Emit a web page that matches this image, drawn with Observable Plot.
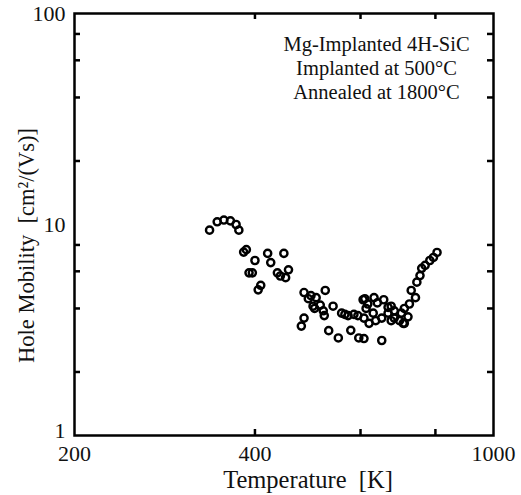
<!DOCTYPE html>
<html>
<head>
<meta charset="utf-8">
<script src="https://cdn.jsdelivr.net/npm/d3@7"></script>
<script src="https://cdn.jsdelivr.net/npm/@observablehq/plot@0.6"></script>
<style>
  html, body { margin: 0; padding: 0; background: #fff; }
  #chart svg { display: block; }
</style>
</head>
<body>
<div id="chart"></div>
<script>
// Temperature [K]
const temperature = [
  336, 346, 355, 364, 372, 376,
  383, 387, 391, 396, 400, 405, 409, 420, 425, 436, 441, 447, 450, 455,
  478, 483, 483, 491, 496, 500, 503, 506, 514, 520, 522, 524, 531, 540, 551,
  558, 565, 572, 578, 585, 594, 596, 606, 608, 610, 613, 617, 620, 630, 632, 636, 640,
  608, 651, 651, 656, 667, 667, 675, 675, 683, 683, 697, 702, 707, 710, 710, 720,
  724, 729, 741, 745, 754, 759, 769, 783, 794, 805
];
// Hole mobility [cm^2/(Vs)]
const mobility = [
  9.4, 10.3, 10.5, 10.4, 10.0, 9.4,
  7.4, 7.6, 5.9, 5.9, 6.75, 4.9, 5.15, 7.3, 6.6, 5.9, 5.7, 7.3, 5.6, 6.1,
  3.3, 3.6, 4.76, 4.45, 4.6, 4.1, 4.0, 4.5, 4.15, 3.9, 3.7, 4.87, 3.14, 4.1, 2.9,
  3.8, 3.75, 3.7, 3.15, 3.75, 3.7, 2.9, 4.4, 3.6, 4.45, 4.0, 4.2, 3.4, 3.8, 4.5, 3.5, 4.25,
  2.88, 2.82, 3.6, 4.4, 4.05, 3.8, 4.1, 3.5, 3.9, 3.6, 3.5, 3.8, 3.4, 4.0, 3.4, 3.65,
  4.2, 4.87, 4.5, 5.33, 5.73, 6.2, 6.4, 6.75, 6.98, 7.37
];
const xTickValues = [200, 400, 600, 800, 1000];
const xInnerTicks = [400, 600, 800];
const yTickValuesUpper = [10, 100];
const yTickValuesLower = [1];
const yInnerTicks = [2, 4, 6, 8, 20, 40, 60, 80];
const annotation = "Mg-Implanted 4H-SiC\nImplanted at 500°C\nAnnealed at 1800°C";
const xTitle = "Temperature  [K]";
const yTitle = "Hole Mobility  [cm²/(Vs)]";

const points = temperature.map((t, i) => ({t, m: mobility[i]}));
const serif = "'Liberation Serif', 'DejaVu Serif', serif";

const W = 521, H = 495, ML = 74, MR = 28, MT = 13, MB = 60;
const TICK = 6;
const frameW = W - ML - MR, frameH = H - MT - MB;

const chart = Plot.plot({
  width: W,
  height: H,
  marginLeft: ML,
  marginRight: MR,
  marginTop: MT,
  marginBottom: MB,
  style: {fontFamily: serif, fontSize: "22px", color: "#111", background: "#fff"},
  x: {type: "log", domain: [200, 1000]},
  y: {type: "log", domain: [1, 100]},
  marks: [
    // inward ticks on all four sides
    Plot.ruleX(xInnerTicks, {x: d => d, insetTop: frameH - TICK, stroke: "#000", strokeWidth: 2.5}),
    Plot.ruleX(xInnerTicks, {x: d => d, insetBottom: frameH - TICK, stroke: "#000", strokeWidth: 2.5}),
    Plot.ruleY(yInnerTicks, {y: d => d, insetRight: frameW - TICK, stroke: "#000", strokeWidth: 2.5}),
    Plot.ruleY(yInnerTicks, {y: d => d, insetLeft: frameW - TICK, stroke: "#000", strokeWidth: 2.5}),
    // tick labels
    Plot.axisX(xTickValues, {anchor: "bottom", tickSize: 0, tickPadding: 10, tickFormat: d => String(d), label: null, fontSize: 22}),
    Plot.axisY(yTickValuesUpper, {anchor: "left", tickSize: 0, tickPadding: 9, tickFormat: d => String(d), label: null, fontSize: 22}),
    Plot.axisY(yTickValuesLower, {anchor: "left", tickSize: 0, tickPadding: 9, dy: -5, tickFormat: d => String(d), label: null, fontSize: 22}),
    Plot.frame({stroke: "#000", strokeWidth: 2.5}),
    Plot.dot(points, {x: "t", y: "m", r: 3.6, stroke: "#000", strokeWidth: 2.4, fill: "none"}),
    Plot.text([annotation], {
      frameAnchor: "top-right", text: d => d, textAnchor: "middle", lineAnchor: "middle",
      dx: -117, dy: 54, lineHeight: 1.17, fontSize: 20.5, fill: "#111"
    }),
    Plot.text([xTitle], {frameAnchor: "bottom", text: d => d, textAnchor: "middle", lineAnchor: "middle", dx: 24, dy: 45, fontSize: 24.5, fill: "#111"}),
    Plot.text([yTitle], {frameAnchor: "left", text: d => d, textAnchor: "middle", lineAnchor: "middle", dx: -48, dy: 21, rotate: -90, fontSize: 22.5, fill: "#111"})
  ]
});
document.getElementById("chart").appendChild(chart);
</script>
</body>
</html>
